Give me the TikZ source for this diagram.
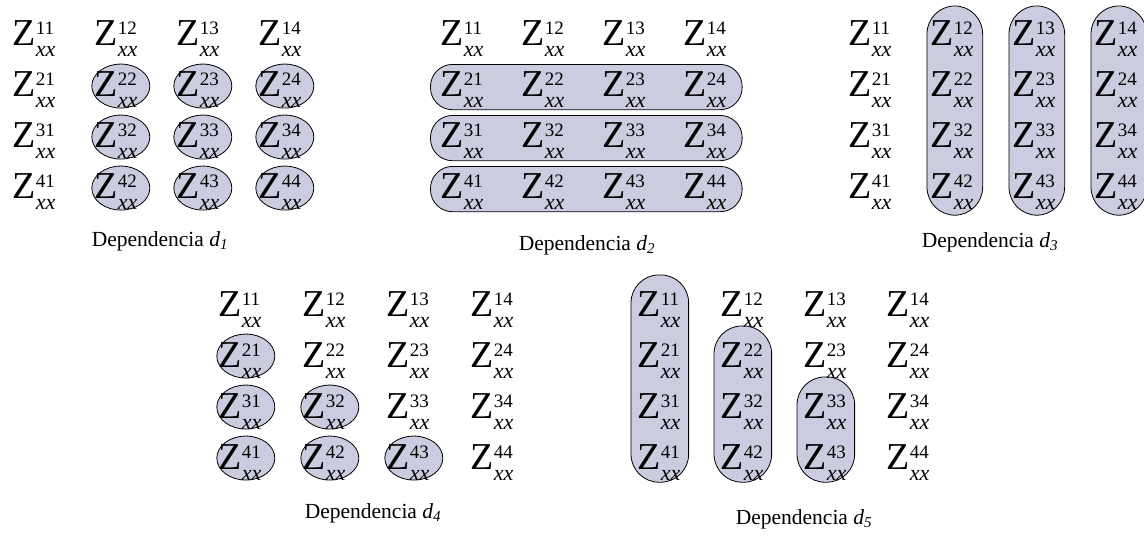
\documentclass[tikz,border=0pt]{standalone}
\usepackage{fontspec}
\setmainfont{Liberation Serif}
\usetikzlibrary{fit,backgrounds,calc}
\definecolor{lila}{HTML}{CCCCE0}
\newcommand\zcell[1]{Z\kern0.5pt\rlap{\raisebox{11pt}{\fontsize{19}{19}\selectfont#1}}\raisebox{-11pt}{\fontsize{22}{22}\selectfont\itshape xx}}
\newcommand\deplabel[1]{Dependencia \textit{d}\textsubscript{\itshape#1}}

\begin{document}
\begin{tikzpicture}[x=1pt,y=-1pt,
  cell/.style={inner sep=0pt,anchor=base west,font=\fontsize{38}{38}\selectfont},
  oval/.style={fill=lila,draw=black,line width=0.8pt},
  pill/.style={fill=lila,draw=black,line width=0.8pt,inner sep=0pt},
  caption/.style={font=\fontsize{21.5}{22}\selectfont,anchor=base}]
\useasboundingbox (0,0) rectangle (1144,539);
% the five matrices
\foreach \m/\x/\y/\dx in {a/12/45/82,b/440/45/81,c/848/45/82,d/218/316/84,e/637/316/83}
  \foreach \r in {1,...,4}
    \foreach \c in {1,...,4}
      \node[cell] (\m\r\c) at ({\x+\dx*(\c-1)},{\y+51*(\r-1)}) {\zcell{\r\c}};
\begin{scope}[on background layer]
\foreach \r in {2,3,4} \foreach \c in {2,3,4}
  \draw[oval] ($(a\r\c.center)+(5,-3)$) ellipse (29pt and 22pt);
\foreach \r in {2,3,4} {
  \pgfmathtruncatemacro\cmax{\r-1}
  \foreach \c in {1,...,\cmax}
    \draw[oval] ($(d\r\c.center)+(6,-4)$) ellipse (29pt and 22pt);}
\foreach \r in {2,3,4}
  \node[pill,rounded corners=22pt,inner xsep=12.5pt,inner ysep=4.5pt,xshift=3pt,yshift=2pt,fit=(b\r1)(b\r4)] (rb\r) {};
\foreach \c in {2,3,4}
  \node[pill,rounded corners=28pt,inner xsep=6pt,inner ysep=10pt,xshift=3pt,yshift=4pt,fit=(c1\c)(c4\c)] (rc\c) {};
\foreach \c in {1,2,3}
  \node[pill,rounded corners=28pt,inner xsep=7pt,inner ysep=9pt,xshift=1pt,yshift=7pt,fit=(e\c\c)(e4\c)] (re\c) {};
\end{scope}
% captions
\node[caption] (la) at (160,246) {\deplabel{1}};
\node[caption] (lb) at (587,250) {\deplabel{2}};
\node[caption] (lc) at (990,247) {\deplabel{3}};
\node[caption] (ld) at (373,518) {\deplabel{4}};
\node[caption] (le) at (804,524) {\deplabel{5}};
\end{tikzpicture}
\end{document}
